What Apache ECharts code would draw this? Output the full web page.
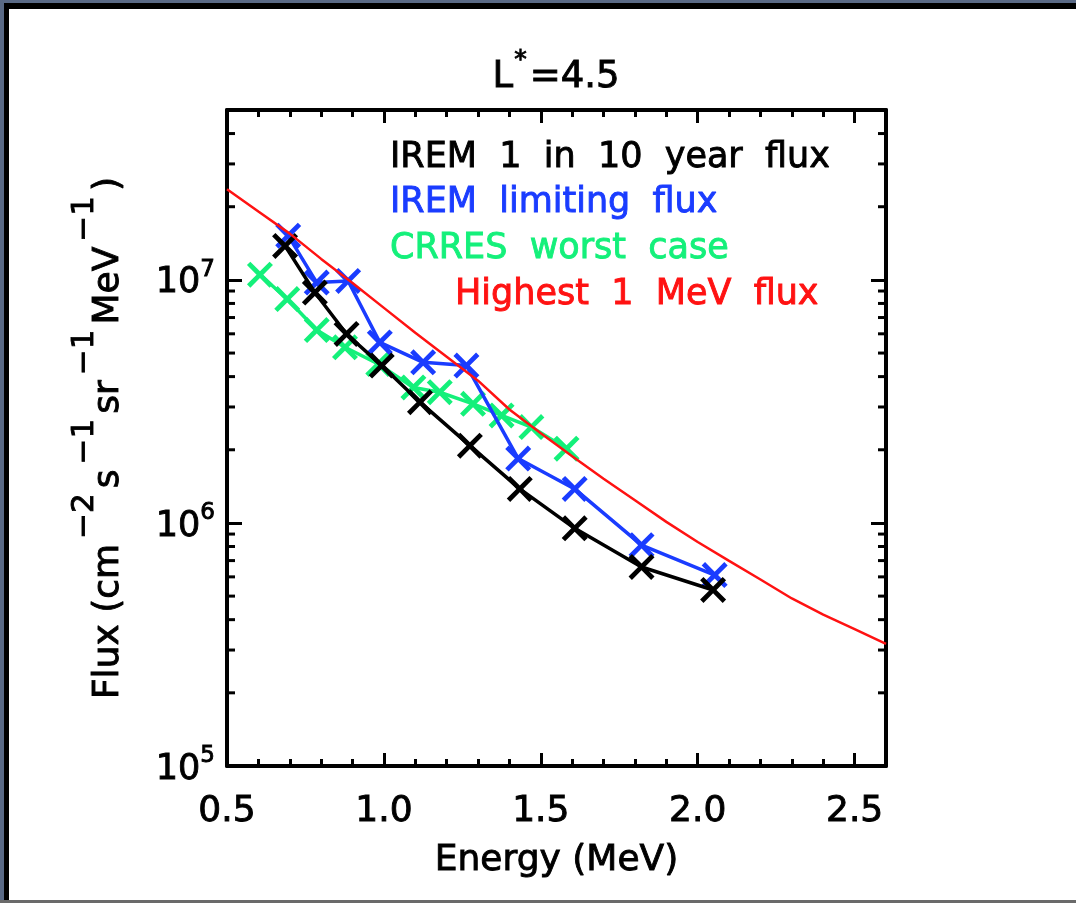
<!DOCTYPE html>
<html>
<head>
<meta charset="utf-8">
<script src="https://cdn.jsdelivr.net/npm/echarts@6/dist/echarts.min.js"></script>
<style>
  html, body { margin: 0; padding: 0; background: #ffffff; }
  #wrap { position: relative; width: 1076px; height: 903px; overflow: hidden; background: #ffffff; }
  #chart { position: absolute; left: 0; top: 0; width: 1076px; height: 903px; }
  .b { position: absolute; }
</style>
</head>
<body>
<div id="wrap">
  <div id="chart"></div>
  <div class="b" style="left:0;top:0;width:1076px;height:3px;background:#5a6a86;"></div>
  <div class="b" style="left:0;top:0;width:4px;height:903px;background:#5a6a86;"></div>
  <div class="b" style="left:4px;top:3px;width:1072px;height:6px;background:#000;"></div>
  <div class="b" style="left:4px;top:3px;width:5px;height:900px;background:#000;"></div>
  <div class="b" style="left:0;top:900px;width:1076px;height:3px;background:#6a6a6a;"></div>
</div>
<script>
// ---- data ----
const titleMain = 'L';
const titleSup = '*';
const titleRest = '=4.5';
const xAxisName = 'Energy (MeV)';
const xTickValues = [0.5, 1.0, 1.5, 2.0, 2.5];
const yTickExponents = [5, 6, 7];

const legendTexts = ['IREM  1  in  10  year  flux', 'IREM  limiting  flux', 'CRRES  worst  case', 'Highest  1  MeV  flux'];

// IREM 1 in 10 year flux (black)
const blackE = [0.685, 0.780, 0.881, 0.993, 1.115, 1.274, 1.433, 1.608, 1.821, 2.049];
const blackF = [1.38e7, 8.87e6, 5.99e6, 4.44e6, 3.14e6, 2.08e6, 1.38e6, 9.5e5, 6.59e5, 5.30e5];

// IREM limiting flux (blue)
const blueE = [0.695, 0.786, 0.886, 0.987, 1.125, 1.263, 1.428, 1.608, 1.821, 2.054];
const blueF = [1.52e7, 9.75e6, 9.9e6, 5.53e6, 4.58e6, 4.44e6, 1.84e6, 1.38e6, 8.1e5, 6.1e5];

// CRRES worst case (green)
const greenE = [0.605, 0.692, 0.786, 0.876, 0.982, 1.094, 1.178, 1.284, 1.375, 1.470, 1.582];
const greenF = [1.05e7, 8.34e6, 6.22e6, 5.28e6, 4.51e6, 3.61e6, 3.45e6, 3.09e6, 2.77e6, 2.48e6, 2.02e6];

// Highest 1 MeV flux (red)
const redE = [0.5, 0.6, 0.7, 0.8, 0.9, 1.0, 1.1, 1.2, 1.3, 1.4, 1.5, 1.6, 1.7, 1.8, 1.9, 2.0, 2.1, 2.2, 2.3, 2.4, 2.5, 2.6];
const redF = [2.36e7, 1.91e7, 1.55e7, 1.22e7, 9.7e6, 7.67e6, 6.06e6, 4.83e6, 3.85e6, 2.93e6, 2.34e6, 1.88e6, 1.52e6, 1.24e6, 1.01e6, 8.35e5, 6.98e5, 5.85e5, 4.89e5, 4.20e5, 3.66e5, 3.18e5];

const xMin = 0.5, xMax = 2.6, xInterval = 0.5;
const yMin = 1e5, yMax = 5e7;

// ---- build ----
const FONT = 'DejaVu Sans';
const COL = { black: '#000000', blue: '#1a3cff', green: '#14f07a', red: '#ff1212' };
// X-shaped cross marker (arm half-width 1.3 units in a 10x10 box)
const XSYM = 'path://M0,1.3L1.3,0L5,3.7L8.7,0L10,1.3L6.3,5L10,8.7L8.7,10L5,6.3L1.3,10L0,8.7L3.7,5Z';

function pairs(xs, ys) { return xs.map((x, i) => [x, ys[i]]); }

// minor log ticks (2..9 in each decade), axis decoration only
const minorY = [];
for (let e = 5; e <= 7; e++) {
  for (let m = 2; m <= 9; m++) {
    const v = m * Math.pow(10, e);
    if (v < yMax) minorY.push([xMin, v]);
  }
}

function markSeries(name, xs, ys, color, z) {
  return {
    name: name, type: 'line', data: pairs(xs, ys), z: z,
    symbol: XSYM, symbolSize: 26, showAllSymbol: true,
    lineStyle: { color: color, width: 3.5 },
    itemStyle: { color: color, borderWidth: 0 },
    emphasis: { disabled: true }, animation: false
  };
}

const chart = echarts.init(document.getElementById('chart'), null, { renderer: 'canvas' });

const TB = { textBorderColor: '#000', textBorderWidth: 0.9 };

const axisCommonX = {
  type: 'value', min: xMin, max: xMax, interval: xInterval,
  axisLine: { show: true, onZero: false, lineStyle: { color: '#000', width: 4 } },
  axisTick: { show: true, inside: true, length: 13, lineStyle: { color: '#000', width: 3 } },
  minorTick: { show: true, splitNumber: 5, length: 7, lineStyle: { color: '#000', width: 3 } },
  splitLine: { show: false }, minorSplitLine: { show: false }
};
const axisCommonY = {
  type: 'log', logBase: 10, min: yMin, max: yMax,
  axisLine: { show: true, onZero: false, lineStyle: { color: '#000', width: 4 } },
  axisTick: { show: true, inside: true, length: 15, lineStyle: { color: '#000', width: 3 } },
  splitLine: { show: false }
};

function rt(size, lh, va, extra) {
  return Object.assign({ fontFamily: FONT, fontSize: size, color: '#000', lineHeight: lh, verticalAlign: va }, TB, extra || {});
}

const option = {
  backgroundColor: 'transparent',
  animation: false,
  grid: { left: 227, top: 110, right: 190, bottom: 137, containLabel: false },
  xAxis: [
    Object.assign({}, axisCommonX, {
      position: 'bottom',
      name: xAxisName, nameLocation: 'middle', nameGap: 77,
      nameTextStyle: Object.assign({ fontFamily: FONT, fontSize: 36, color: '#000' }, TB),
      axisLabel: Object.assign({
        show: true, margin: 28, fontFamily: FONT, fontSize: 36, color: '#000',
        formatter: function (v) { return xTickValues.some(t => Math.abs(t - v) < 1e-9) ? v.toFixed(1) : ''; }
      }, TB)
    }),
    Object.assign({}, axisCommonX, { position: 'top', axisLabel: { show: false } })
  ],
  yAxis: [
    Object.assign({}, axisCommonY, {
      position: 'left',
      name: '{n|Flux (cm}{s|−2}{n|s}{s|−1}{n|sr}{s|−1}{n|MeV}{s|−1}{n|)}',
      nameLocation: 'middle', nameGap: 100, nameRotate: 90,
      nameTextStyle: {
        color: '#000',
        rich: {
          n: rt(36, 58, 'bottom'),
          s: rt(31, 58, 'top', { padding: [0, 5, 0, 5] })
        }
      },
      axisLabel: {
        show: true, margin: 12,
        formatter: function (v) {
          const e = Math.round(Math.log10(v));
          if (yTickExponents.indexOf(e) < 0 || Math.abs(Math.pow(10, e) - v) / v > 1e-6) return '';
          return '{a|10}{b|' + e + '}';
        },
        rich: {
          a: rt(35, 42, 'bottom'),
          b: rt(23, 42, 'top')
        }
      }
    }),
    Object.assign({}, axisCommonY, { position: 'right', axisLabel: { show: false } })
  ],
  graphic: [
    {
      type: 'text', x: 556, y: 72, silent: true,
      style: {
        text: '{m|' + titleMain + '}{s|' + titleSup + '}{m|' + titleRest + '}',
        align: 'center', verticalAlign: 'middle',
        rich: {
          m: { fontFamily: FONT, fontSize: 37, fill: '#000', stroke: '#000', lineWidth: 0.9, lineHeight: 48, verticalAlign: 'bottom' },
          s: { fontFamily: FONT, fontSize: 25, fill: '#000', stroke: '#000', lineWidth: 0.9, lineHeight: 48, verticalAlign: 'top', padding: [0, 3, 0, 1] }
        }
      }
    },
    { type: 'text', x: 390, y: 158, silent: true, style: { text: legendTexts[0], fill: COL.black, stroke: COL.black, lineWidth: 0.9, font: '35px "DejaVu Sans"', verticalAlign: 'middle', align: 'left' } },
    { type: 'text', x: 390, y: 203, silent: true, style: { text: legendTexts[1], fill: COL.blue, stroke: COL.blue, lineWidth: 0.9, font: '35px "DejaVu Sans"', verticalAlign: 'middle', align: 'left' } },
    { type: 'text', x: 390, y: 249, silent: true, style: { text: legendTexts[2], fill: COL.green, stroke: COL.green, lineWidth: 0.9, font: '35px "DejaVu Sans"', verticalAlign: 'middle', align: 'left' } },
    { type: 'text', x: 455, y: 295, silent: true, style: { text: legendTexts[3], fill: COL.red, stroke: COL.red, lineWidth: 0.9, font: '35px "DejaVu Sans"', verticalAlign: 'middle', align: 'left' } }
  ],
  series: [
    markSeries('CRRES worst case', greenE, greenF, COL.green, 2),
    markSeries('IREM limiting flux', blueE, blueF, COL.blue, 3),
    markSeries('IREM 1 in 10 year flux', blackE, blackF, COL.black, 4),
    {
      name: 'Highest 1 MeV flux', type: 'line', data: pairs(redE, redF), z: 5,
      symbol: 'none', smooth: false, lineStyle: { color: COL.red, width: 2.5 },
      emphasis: { disabled: true }, animation: false
    },
    {
      name: 'yMinorTicks', type: 'custom', data: minorY, silent: true, z: 6, clip: false,
      renderItem: function (params, api) {
        const cs = params.coordSys;
        const p = api.coord([api.value(0), api.value(1)]);
        const y = p[1];
        return {
          type: 'group',
          children: [
            { type: 'line', shape: { x1: cs.x, y1: y, x2: cs.x + 8, y2: y }, style: { stroke: '#000', lineWidth: 3 } },
            { type: 'line', shape: { x1: cs.x + cs.width - 8, y1: y, x2: cs.x + cs.width, y2: y }, style: { stroke: '#000', lineWidth: 3 } }
          ]
        };
      }
    }
  ]
};
chart.setOption(option);
</script>
</body>
</html>
